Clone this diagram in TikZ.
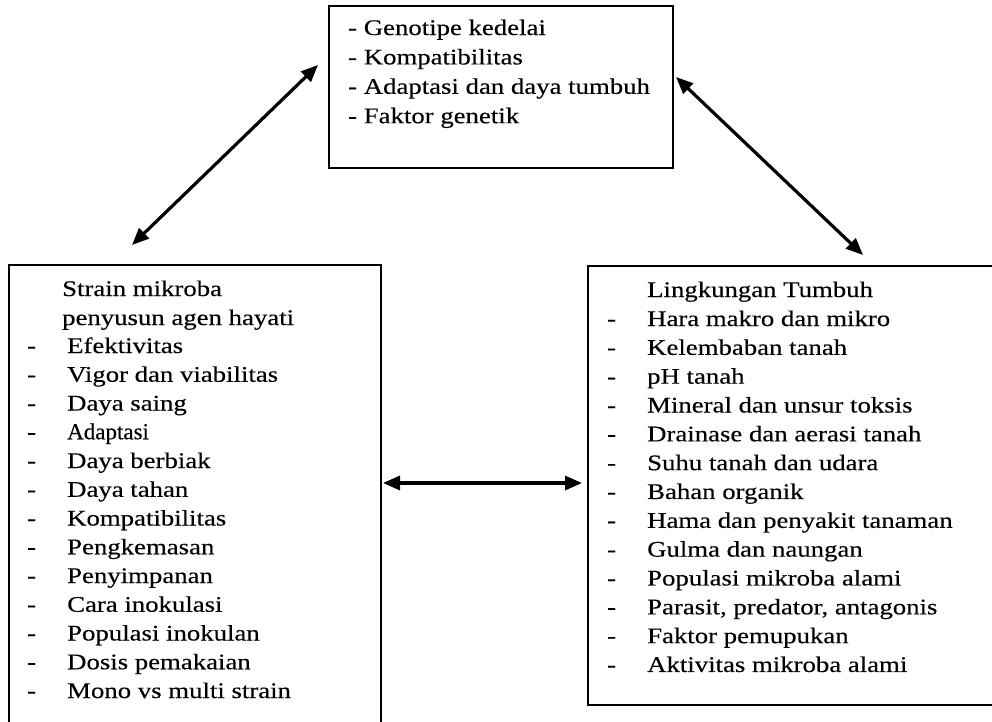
\documentclass[tikz,border=0pt]{standalone}
\usepackage{fontspec}
\setmainfont[FakeStretch=1.2,FakeBold=0.3]{Liberation Serif}
\newfontfamily\plainfont[FakeBold=0.3]{Liberation Serif}
\usetikzlibrary{arrows.meta}
\begin{document}
\begin{tikzpicture}[x=1pt,y=-1pt,
  box/.style={draw,line width=1.9pt,rectangle,inner sep=0pt,anchor=north west},
  txt/.style={anchor=base west,inner sep=0pt,font=\fontsize{22.3}{26}\selectfont},
  link/.style={line width=3.2pt,{Triangle[length=17pt,width=14pt]}-{Triangle[length=17pt,width=14pt]}}]
\useasboundingbox (0,0) rectangle (992,721);
\clip (0,0) rectangle (992,721);
% boxes
\node[box,minimum width=344pt,minimum height=162pt] (top) at (328,5) {};
\node[box,minimum width=372pt,minimum height=480pt] (left) at (8,264) {};
\node[box,minimum width=430pt,minimum height=439pt] (right) at (587,265) {};
% top box text
\foreach \t [count=\i] in {Genotipe kedelai, Kompatibilitas, Adaptasi dan daya tumbuh, Faktor genetik}
  \node[txt] (t\i) at ({348},{35+29.4*(\i-1)}) {- \t};
% left box text
\node[txt] (lh1) at (62,296) {Strain mikroba};
\node[txt] (lh2) at (62,325) {penyusun agen hayati};
\foreach \t [count=\i] in {Efektivitas, Vigor dan viabilitas, Daya saing,
  {\plainfont\fontsize{23}{26}\selectfont Adaptasi}, Daya berbiak, Daya tahan,
  Kompatibilitas, Pengkemasan, Penyimpanan, Cara inokulasi, Populasi inokulan,
  Dosis pemakaian, Mono vs multi strain}{
  \node[txt] (ld\i) at ({27},{353+28.75*(\i-1)}) {-};
  \node[txt] (l\i) at ({67},{353+28.75*(\i-1)}) {\t};
}
% right box text
\node[txt] (rh) at (647,297) {Lingkungan Tumbuh};
\foreach \t [count=\i] in {Hara makro dan mikro, Kelembaban tanah, pH tanah,
  Mineral dan unsur toksis, Drainase dan aerasi tanah, Suhu tanah dan udara,
  Bahan organik, Hama dan penyakit tanaman, Gulma dan naungan,
  Populasi mikroba alami, {Parasit, predator, antagonis}, Faktor pemupukan,
  Aktivitas mikroba alami}{
  \node[txt] (rd\i) at ({607},{326+28.83*(\i-1)}) {-};
  \node[txt] (r\i) at ({647},{326+28.83*(\i-1)}) {\t};
}
% arrows
\coordinate (a1) at (318,65);
\coordinate (a2) at (132,245);
\coordinate (b1) at (676,77);
\coordinate (b2) at (863,255);
\coordinate (c1) at (383,483);
\coordinate (c2) at (582,483);
\draw[link] (a2) -- (a1);
\draw[link] (b1) -- (b2);
\draw[link] (c1) -- (c2);
\end{tikzpicture}
\end{document}
